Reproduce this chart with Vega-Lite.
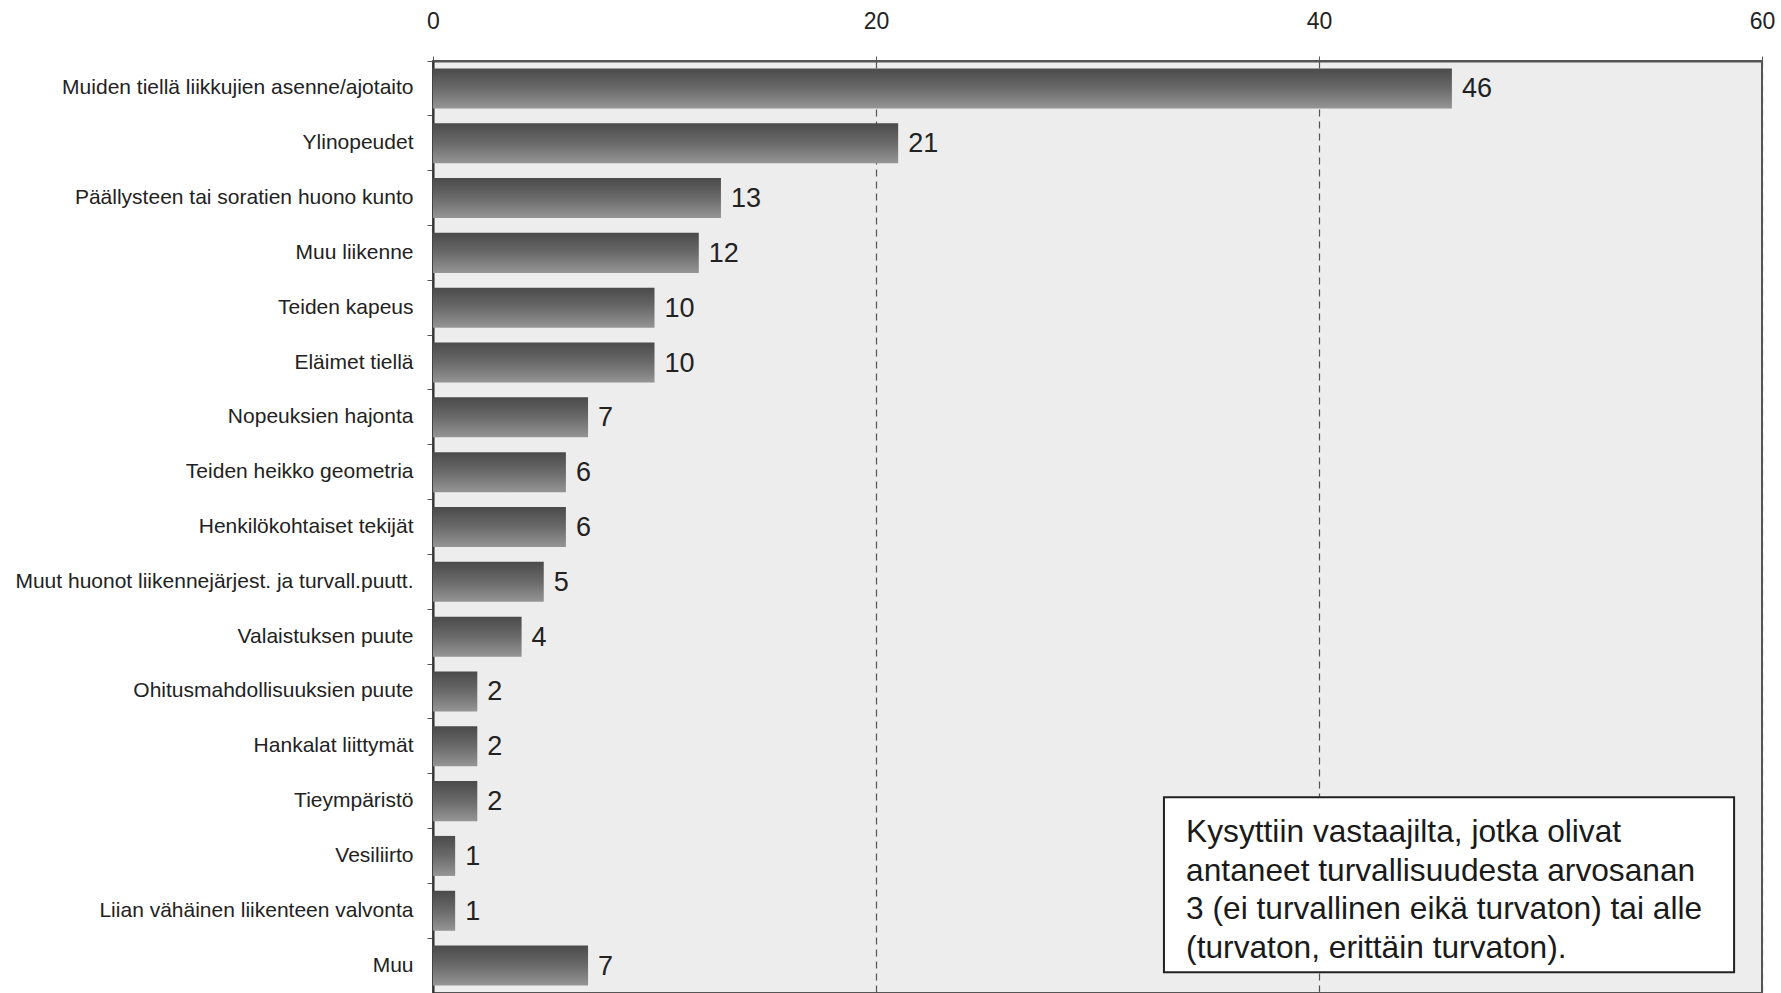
{
  "$schema": "https://vega.github.io/schema/vega-lite/v6.json",
  "autosize": {"type": "none"},
  "padding": {"left": 433, "top": 61, "right": 19, "bottom": 0},
  "width": 1329,
  "height": 932,
  "background": "#ffffff",
  "config": {
    "view": {"fill": "#ededed", "stroke": "#555555", "strokeWidth": 2},
    "font": "Liberation Sans, Arial, sans-serif"
  },
  "datasets": {
    "bars": [
      {"syy": "Muiden tiellä liikkujien asenne/ajotaito", "n": 46},
      {"syy": "Ylinopeudet", "n": 21},
      {"syy": "Päällysteen tai soratien huono kunto", "n": 13},
      {"syy": "Muu liikenne", "n": 12},
      {"syy": "Teiden kapeus", "n": 10},
      {"syy": "Eläimet tiellä", "n": 10},
      {"syy": "Nopeuksien hajonta", "n": 7},
      {"syy": "Teiden heikko geometria", "n": 6},
      {"syy": "Henkilökohtaiset tekijät", "n": 6},
      {"syy": "Muut huonot liikennejärjest. ja turvall.puutt.", "n": 5},
      {"syy": "Valaistuksen puute", "n": 4},
      {"syy": "Ohitusmahdollisuuksien puute", "n": 2},
      {"syy": "Hankalat liittymät", "n": 2},
      {"syy": "Tieympäristö", "n": 2},
      {"syy": "Vesiliirto", "n": 1},
      {"syy": "Liian vähäinen liikenteen valvonta", "n": 1},
      {"syy": "Muu", "n": 7}
    ],
    "note": [
      {"x0": 33.0, "x1": 58.74, "y0": 13.43, "y1": 16.62, "tx": 34.0, "ty": 14.25,
       "txt": "Kysyttiin vastaajilta, jotka olivat|antaneet turvallisuudesta arvosanan|3 (ei turvallinen eikä turvaton) tai alle|(turvaton, erittäin turvaton)."}
    ]
  },
  "layer": [
    {
      "data": {"name": "bars"},
      "layer": [
        {
          "mark": {
            "type": "bar",
            "height": {"band": 0.73},
            "color": {
              "gradient": "linear", "x1": 0, "y1": 0, "x2": 0, "y2": 1,
              "stops": [
                {"offset": 0, "color": "#4a4a4a"},
                {"offset": 0.5, "color": "#6a6a6a"},
                {"offset": 1, "color": "#959595"}
              ]
            }
          },
          "encoding": {
            "y": {
              "field": "syy", "type": "nominal", "sort": null,
              "scale": {"paddingInner": 0, "paddingOuter": 0},
              "axis": {
                "title": null, "orient": "left", "bandPosition": 0,
                "domainColor": "#333333", "domainWidth": 2,
                "tickColor": "#555555", "tickSize": 6, "tickWidth": 1,
                "labelPadding": 14, "labelFontSize": 21, "labelColor": "#222222",
                "labelLimit": 600, "labelFont": "Liberation Sans, Arial, sans-serif"
              }
            },
            "x": {
              "field": "n", "type": "quantitative",
              "scale": {"domain": [0, 60], "nice": false},
              "axis": {
                "title": null, "orient": "top", "values": [0, 20, 40, 60],
                "grid": true, "gridColor": "#555555", "gridDash": [7, 5], "gridWidth": 1.2,
                "domainColor": "#555555", "domainWidth": 2,
                "tickColor": "#555555", "tickSize": 5,
                "labelFlush": false, "labelOverlap": false,
                "labelPadding": 23, "labelFontSize": 23, "labelColor": "#222222",
                "labelFont": "Liberation Sans, Arial, sans-serif"
              }
            }
          }
        },
        {
          "mark": {
            "type": "text", "align": "left", "baseline": "middle", "dx": 10, "dy": 1,
            "fontSize": 27, "color": "#222222",
            "font": "Liberation Sans, Arial, sans-serif"
          },
          "encoding": {
            "y": {"field": "syy", "type": "nominal", "sort": null},
            "x": {"field": "n", "type": "quantitative"},
            "text": {"field": "n", "type": "quantitative"}
          }
        }
      ]
    },
    {
      "data": {"name": "note"},
      "layer": [
        {
          "mark": {"type": "rect", "fill": "#ffffff", "stroke": "#222222", "strokeWidth": 2},
          "encoding": {
            "x": {"field": "x0", "type": "quantitative"},
            "x2": {"field": "x1"},
            "y": {"field": "y0", "type": "quantitative", "scale": {"domain": [0, 17], "reverse": true, "nice": false, "zero": false}, "axis": null},
            "y2": {"field": "y1"}
          }
        },
        {
          "mark": {
            "type": "text", "align": "left", "baseline": "alphabetic",
            "lineBreak": "|", "lineHeight": 38.5,
            "fontSize": 31.7, "color": "#1a1a1a",
            "font": "Liberation Sans, Arial, sans-serif"
          },
          "encoding": {
            "x": {"field": "tx", "type": "quantitative"},
            "y": {"field": "ty", "type": "quantitative", "scale": {"domain": [0, 17], "reverse": true, "nice": false, "zero": false}, "axis": null},
            "text": {"field": "txt", "type": "nominal"}
          }
        }
      ]
    }
  ],
  "resolve": {"scale": {"y": "independent"}, "axis": {"y": "independent"}}
}
